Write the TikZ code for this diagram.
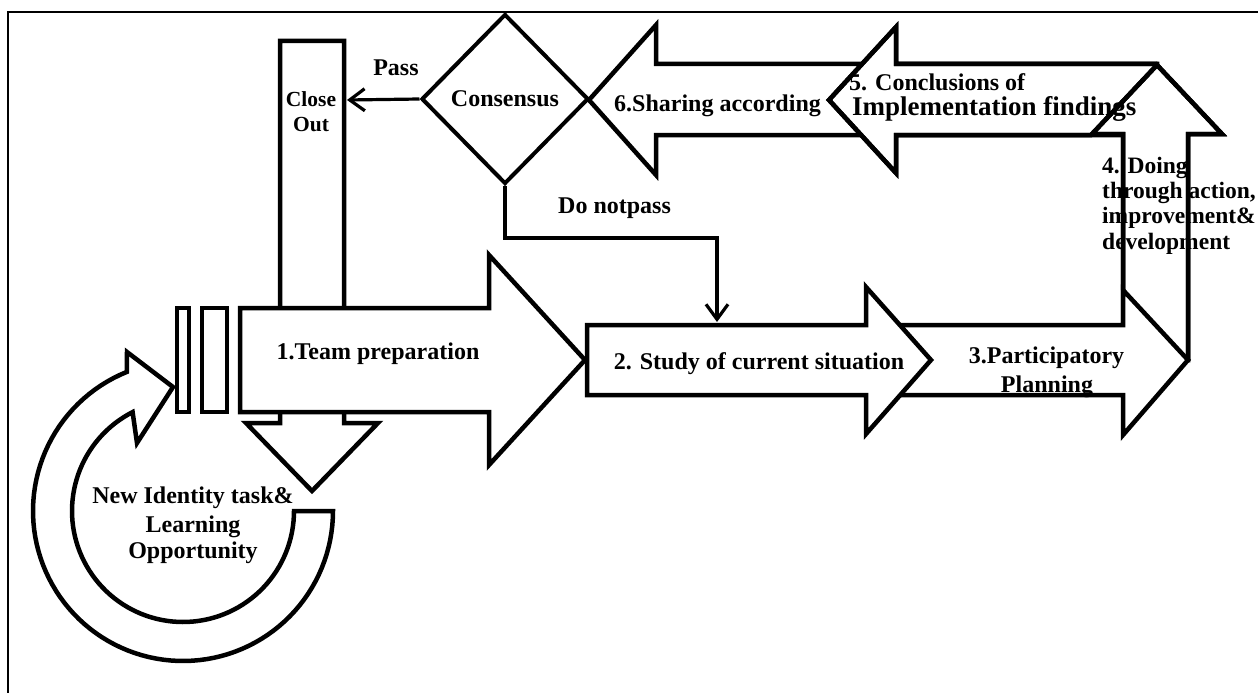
\documentclass[tikz,border=0pt]{standalone}
\usepackage{fontspec}
\setmainfont{Liberation Serif}
\usetikzlibrary{arrows.meta,shapes.geometric}
\begin{document}
\begin{tikzpicture}[x=1pt,y=-1pt,
  blk/.style={draw=black, fill=white, line width=4.5pt, line join=miter},
  outl/.style={draw=black, line width=4.5pt, line join=miter},
  lbl/.style={inner sep=0pt, font=\bfseries\fontsize{24}{28}\selectfont},
  lblsm/.style={inner sep=0pt, font=\bfseries\fontsize{21.5}{24}\selectfont},
  lblbig/.style={inner sep=0pt, font=\bfseries\fontsize{27}{30}\selectfont},
  lbldoing/.style={inner sep=0pt, font=\bfseries\fontsize{23.5}{25}\selectfont},
  conn/.style={draw=black, line width=3.2pt, -{Straight Barb[length=15pt,width=22pt]}},
  frame/.style={draw=black, line width=2pt}
]
\useasboundingbox (0,0) rectangle (1258,693);
\fill[white] (0,0) rectangle (1258,693);
% outer frame (runs off right and bottom)
\draw[frame] (8,720) -- (8,12) -- (1290,12);

% close-out down arrow
\draw[blk] (280,41) -- (344,41) -- (344,423) -- (378,423) -- (312,491) -- (246,423) -- (280,423) -- cycle;
% team preparation arrow
\draw[blk] (240,308) -- (489,308) -- (489,255) -- (585,360) -- (489,465) -- (489,412) -- (240,412) -- cycle;
% two bars
\draw[blk] (177,308) rectangle (189,412);
\draw[blk] (202,308) rectangle (227,412);
% circular arrow
\draw[blk] plot[domain=0:248,samples=90] ({183+150*cos(\x)},{511+150*sin(\x)})
  -- (127,352) -- (173,387) -- (137,443)
  -- plot[domain=243:0,samples=90] ({183+111*cos(\x)},{511+111*sin(\x)}) -- cycle;

% arrows 6,5,4,3,2
\draw[blk] (870,64) -- (656,64) -- (656,25) -- (589,100) -- (656,175) -- (656,135) -- (870,135) -- cycle;
\draw[blk] (1157,64) -- (896,64) -- (896,27) -- (829,100) -- (896,173) -- (896,135) -- (1157,135) -- cycle;
\draw[blk] (1123,360) -- (1123,134) -- (1092,134) -- (1157,65) -- (1222,134) -- (1188,134) -- (1188,360) -- cycle;
\draw[blk] (880,325) -- (1123,325) -- (1123,290) -- (1188,360) -- (1123,435) -- (1123,395) -- (880,395) -- cycle;
\draw[blk] (587,325) -- (866,325) -- (866,287) -- (931,360) -- (866,434) -- (866,395) -- (587,395) -- cycle;

% decision diamond
\node[diamond, draw=black, fill=white, line width=4pt, line join=miter, minimum width=167pt, minimum height=170pt, lbl] (consensus) at (505,99) {Consensus};

% connector endpoints
\coordinate (closeoutE) at (347,100);
\coordinate (studyTop) at (717,322);

\draw[conn] (consensus.west) -- (closeoutE);
\draw[conn] (consensus.south) -- ++(0,52) -| (studyTop);

% labels
\node[lblsm, anchor=base] (closeA) at (311,106.7) {Close};
\node[lblsm, anchor=base] (closeB) at (311,131.7) {Out};
\node[lbl, anchor=base] (pass) at (396,76) {Pass};
\node[lbl, anchor=base west] (donot) at (558,213) {Do notpass};
\node[lbl, anchor=base] (share) at (717.5,111) {6.Sharing according};
\node[lbl, anchor=base west] (concA) at (849,90) {5. Conclusions of};
\node[lblbig, anchor=base west] (concB) at (852,115) {Implementation findings};
\node[lbldoing, anchor=base west] (doA) at (1102,173) {4. Doing};
\node[lbldoing, anchor=base west] (doB) at (1102,198) {through action,};
\node[lbldoing, anchor=base west] (doC) at (1102,223) {improvement\&};
\node[lbldoing, anchor=base west] (doD) at (1102,249) {development};
\node[lbl, anchor=base] (partA) at (1046.5,363) {3.Participatory};
\node[lbl, anchor=base] (partB) at (1047,392) {Planning};
\node[lbl, anchor=base] (study) at (759,369) {2. Study of current situation};
\node[lbl, anchor=base] (team) at (378,359) {1.Team preparation};
\node[lbl, anchor=base] (newA) at (193,503) {New Identity task\&};
\node[lbl, anchor=base] (newB) at (193,532) {Learning};
\node[lbl, anchor=base] (newC) at (193,558) {Opportunity};

% outlines that run over the text
\draw[outl] (1157,64) -- (896,64) -- (896,27) -- (829,100) -- (896,173) -- (896,135) -- (1092,135);
\draw[outl] (1123,290) -- (1123,134) -- (1092,134) -- (1157,65) -- (1222,134) -- (1188,134) -- (1188,360);
\draw[outl] (901,395) -- (1123,395) -- (1123,435);
\end{tikzpicture}
\end{document}
